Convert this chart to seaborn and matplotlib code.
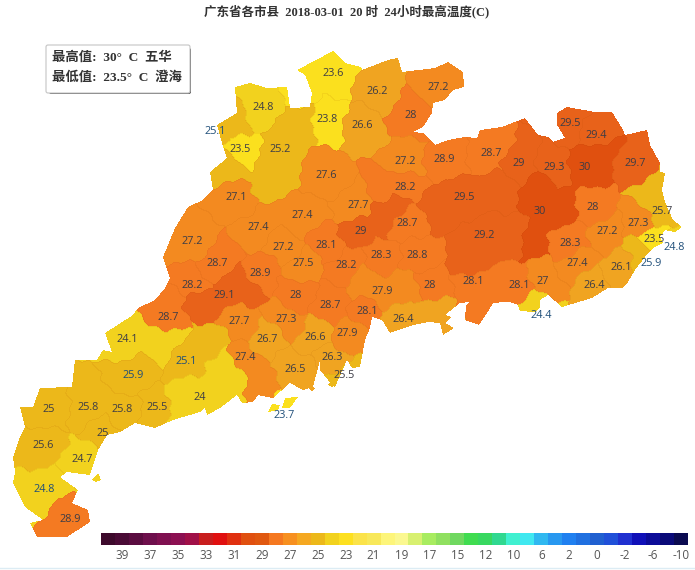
import numpy as np
import matplotlib
matplotlib.use("Agg")
import matplotlib.pyplot as plt
import seaborn as sns
from matplotlib.colors import ListedColormap
from matplotlib.patches import FancyBboxPatch
from matplotlib.path import Path

# county labels
temps = [23.6, 26.2, 27.2, 24.8, 28, 25.1, 23.8, 26.6, 23.5, 25.2, 29.5, 29.4, 27.2, 28.9, 28.7, 29, 29.3, 30, 29.7,
         27.6, 28.2, 27.1, 27.7, 29.5, 28, 25.7, 27.4, 27.4, 29, 28.7, 30, 27.3, 27.2, 23.5, 24.8, 27.2, 27.2, 28.1,
         29.2, 28.3, 28.7, 27.5, 28.2, 28.3, 28.8, 27.4, 26.1, 25.9, 28.9, 28.2, 29.1, 28, 27.9, 28, 28.1, 28.1, 27,
         26.4, 28.7, 28.7, 28.1, 27.7, 27.3, 26.4, 24.4, 24.1, 26.7, 26.6, 27.9, 27.4, 25.1, 26.3, 25.9, 26.5, 25.5,
         24, 23.7, 25, 25.8, 25.8, 25.5, 25, 25.6, 24.7, 24.8, 28.9]
label_x = [333, 377, 438, 263, 411, 215, 327, 362, 240, 280, 570, 596, 405, 444, 491, 519, 554, 585, 635,
           326, 405, 236, 358, 464, 593, 662, 258, 302, 361, 407, 540, 638, 607, 654, 674, 192, 283, 326,
           484, 570, 217, 303, 346, 381, 417, 577, 621, 651, 260, 192, 224, 296, 382, 430, 473, 519, 543,
           594, 168, 330, 367, 239, 286, 403, 541, 127, 267, 315, 347, 245, 186, 332, 133, 295, 344,
           200, 284, 49, 88, 122, 157, 103, 43, 82, 44, 70]
label_y = [74, 92, 87, 108, 116, 131, 119, 126, 149, 150, 123, 136, 161, 160, 153, 164, 167, 168, 164,
           175, 187, 198, 206, 197, 208, 212, 227, 215, 231, 224, 212, 223, 232, 240, 248, 241, 247, 246,
           236, 243, 263, 264, 265, 256, 256, 263, 267, 263, 274, 285, 296, 295, 292, 285, 281, 286, 282,
           285, 317, 305, 312, 322, 320, 319, 315, 339, 339, 337, 334, 358, 361, 358, 376, 369, 376,
           398, 415, 409, 408, 410, 408, 433, 446, 460, 489, 520]
# labels printed off the land are blue
outside = [25.1, 23.7, 25.9, 24.8, 24.4]

# extra points so the big counties get about the right shape
extra_x = [540, 530, 560, 600, 500, 440, 520, 470, 378, 395, 385, 200, 245, 232, 655, 660, 640, 300, 620, 535, 640,
           190, 228, 270, 300, 262, 405, 365, 430, 395, 165, 168, 210, 235, 220, 180, 258]
extra_y = [190, 235, 205, 150, 190, 205, 232, 265, 218, 205, 188, 300, 285, 125, 190, 270, 262, 90, 285, 305, 252,
           395, 166, 178, 120, 95, 290, 285, 312, 322, 340, 305, 345, 385, 365, 405, 392]
extra_t = [30, 30, 30, 30, 29.5, 29.5, 29.2, 29.2, 29, 29, 28.2, 29.1, 29.1, 25.1, 25.7, 25.9, 25.9, 23.6, 26.1, 24.4,
           25.9, 24, 25.2, 25.2, 25.2, 24.8, 27.9, 27.9, 26.4, 26.4, 24.1, 28.7, 25.1, 24, 24, 24, 27.4]

land = [(297, 70), (333, 51), (345, 63), (361, 67), (362, 70), (388, 60), (398, 58), (402, 72), (435, 68), (448, 62),
        (463, 72), (464, 87), (453, 90), (445, 100), (433, 103), (432, 113), (423, 127), (413, 132), (423, 133),
        (435, 145), (448, 140), (465, 137), (477, 138), (480, 130), (502, 127), (525, 118), (538, 135), (548, 137),
        (553, 142), (565, 138), (557, 125), (557, 113), (567, 107), (595, 112), (612, 112), (622, 128), (625, 135),
        (647, 130), (650, 145), (660, 163), (660, 172), (665, 173), (662, 190), (665, 202), (673, 220), (682, 227),
        (675, 232), (665, 230), (660, 237), (663, 243), (653, 248), (645, 257), (635, 270), (628, 282), (622, 288),
        (608, 288), (592, 298), (562, 307), (548, 295), (540, 300), (540, 308), (535, 312), (520, 311), (518, 305),
        (510, 302), (504, 302), (493, 303), (487, 313), (479, 325), (465, 320), (466, 305), (470, 302), (460, 303),
        (445, 315), (452, 317), (445, 323), (454, 328), (443, 335), (440, 323), (428, 322), (413, 325), (390, 333),
        (382, 320), (372, 317), (370, 328), (365, 340), (360, 367), (352, 368), (347, 360), (335, 387), (328, 380),
        (320, 370), (320, 360), (313, 387), (303, 390), (290, 383), (273, 398), (258, 395), (253, 402), (242, 403),
        (237, 395), (220, 408), (207, 415), (205, 408), (200, 412), (173, 420), (155, 428), (135, 423), (120, 432),
        (107, 435), (98, 450), (90, 475), (67, 472), (60, 477), (78, 490), (72, 503), (88, 510), (90, 522), (67, 537),
        (37, 537), (30, 523), (43, 520), (25, 507), (13, 483), (15, 472), (13, 457), (20, 437), (25, 427), (20, 407),
        (33, 407), (40, 388), (72, 387), (75, 360), (97, 360), (103, 350), (112, 352), (105, 333), (133, 315),
        (138, 308), (155, 300), (165, 288), (170, 278), (163, 257), (175, 228), (188, 207), (203, 200), (213, 190),
        (210, 172), (227, 158), (222, 143), (217, 125), (237, 113), (235, 87), (250, 83), (267, 88), (287, 87),
        (290, 108), (310, 107), (312, 93), (305, 75)]
islands = [[(268, 412), (272, 404), (280, 405), (278, 410)], [(282, 408), (285, 398), (298, 397), (290, 408)],
           [(92, 480), (98, 473), (101, 480), (96, 482)], [(309, 389), (312, 386), (315, 388), (312, 391)],
           [(328, 385), (332, 379), (337, 383), (332, 387)]]

bar_colors = ["#3d0a2c", "#4a0b36", "#5a0c40", "#6e0f4c", "#7f1050", "#8c1052", "#a01048", "#c81e1e", "#e01010",
              "#e03010", "#e05010", "#e05810", "#f57820", "#f79020", "#f5a821", "#ecb81a", "#f2d21e", "#fde020",
              "#fbe34a", "#f8e85a", "#fdf57a", "#fbf890", "#d8f070", "#a8ec60", "#90e060", "#70d860", "#40dc50",
              "#38d860", "#30d890", "#40f0d0", "#40e8f0", "#30b8f0", "#2898f0", "#2080f0", "#2070e0", "#2060d0",
              "#2050d8", "#2030d0", "#1010b8", "#0c0c98", "#0a0a78", "#0a0a50"]
bar_labels = ["39", "37", "35", "33", "31", "29", "27", "25", "23", "21", "19", "17", "15", "12", "10", "6", "2",
              "0", "-2", "-6", "-10"]

# one colour per whole degree, 23 to 30
degree_colors = ["#fbe01e", "#f2d21e", "#ecb81a", "#f0a421", "#f38a20", "#f47a22", "#e8621a", "#e0500f"]

WIDTH, HEIGHT = 695, 570


def build_grid():
    # every land pixel takes the temperature of the closest point, a bit wobbled so borders are not straight
    xs, ys = np.meshgrid(np.arange(WIDTH) + 0.5, np.arange(HEIGHT) + 0.5)
    seed_x = np.array(label_x + extra_x, dtype=float)
    seed_y = np.array(label_y + extra_y, dtype=float)
    seed_t = np.array(temps + extra_t, dtype=float)
    wx = xs + 2.5 * np.sin(ys / 6.0) + 1.5 * np.sin(ys / 2.3)
    wy = ys + 2.5 * np.sin(xs / 7.0) + 1.5 * np.sin(xs / 2.7)
    dist = (wx[..., None] - seed_x) ** 2 + (wy[..., None] - seed_y) ** 2
    grid = seed_t[dist.argmin(axis=2)]

    pts = np.column_stack([xs.ravel(), ys.ravel()])
    inside = Path(land).contains_points(pts)
    for isl in islands:
        inside |= Path(isl).contains_points(pts)
    inside = inside.reshape(xs.shape)
    return grid, inside


def draw_map(ax):
    grid, inside = build_grid()
    sns.heatmap(grid, mask=~inside, cmap=ListedColormap(degree_colors), vmin=23, vmax=31, cbar=False, ax=ax,
                xticklabels=False, yticklabels=False)

    # faint county borders
    border = np.zeros_like(inside)
    border[:, 1:] |= grid[:, 1:] != grid[:, :-1]
    border[1:, :] |= grid[1:, :] != grid[:-1, :]
    border &= inside
    sns.heatmap(np.ones_like(grid), mask=~border, cmap=ListedColormap(["#a04000"]), alpha=0.08, cbar=False, ax=ax,
                xticklabels=False, yticklabels=False)
    ax.axis("off")

    for x, y, t in zip(label_x, label_y, temps):
        off = t in outside and (x < 225 or x > 640 or y > 400 or x == 541)
        ax.text(x, y, f"{t:g}", ha="center", va="center", fontsize=7.8, family="Open Sans",
                color="#1f4e79" if off else "#3c3c46")


def draw_box(ax):
    ax.add_patch(FancyBboxPatch((49, 48), 142, 46, boxstyle="round,pad=0,rounding_size=2", facecolor="#555555",
                                edgecolor="none"))
    ax.add_patch(FancyBboxPatch((46, 45), 144, 48, boxstyle="round,pad=0,rounding_size=2", facecolor="white",
                                edgecolor="#c4c4c4", lw=0.8))
    fam = ["Liberation Serif", "Noto Sans CJK SC"]
    ax.text(52, 58, "最高值:  30°  C  五华", fontsize=9.6, fontweight="bold", family=fam, color="#333333", va="center")
    ax.text(52, 77, "最低值:  23.5°  C  澄海", fontsize=9.6, fontweight="bold", family=fam, color="#333333", va="center")


def draw_colorbar(fig):
    ax = fig.add_axes([101 / WIDTH, 1 - 545 / HEIGHT, 587 / WIDTH, 12 / HEIGHT])
    cells = np.arange(len(bar_colors)).reshape(1, -1)
    sns.heatmap(cells, cmap=ListedColormap(bar_colors), cbar=False, ax=ax, yticklabels=False)
    ax.set_xticks(np.arange(1, len(bar_colors), 2) + 0.5)
    ax.set_xticklabels(bar_labels, rotation=0, fontsize=8.4, family="Open Sans", color="#555555")
    ax.tick_params(axis="x", length=0, pad=3)


def main():
    fig = plt.figure(figsize=(WIDTH / 100, HEIGHT / 100), dpi=100)
    ax = fig.add_axes([0, 0, 1, 1])
    draw_map(ax)
    draw_box(ax)
    ax.text(347, 11, "广东省各市县  2018-03-01  20 时  24小时最高温度(C)", ha="center", va="center", fontsize=9,
            fontweight="bold", family=["Liberation Serif", "Noto Sans CJK SC"], color="#333333")
    ax.plot([0, WIDTH], [568, 568], color="#dcecf4", lw=1)
    draw_colorbar(fig)
    fig.savefig("out.png", dpi=100)


if __name__ == "__main__":
    main()
